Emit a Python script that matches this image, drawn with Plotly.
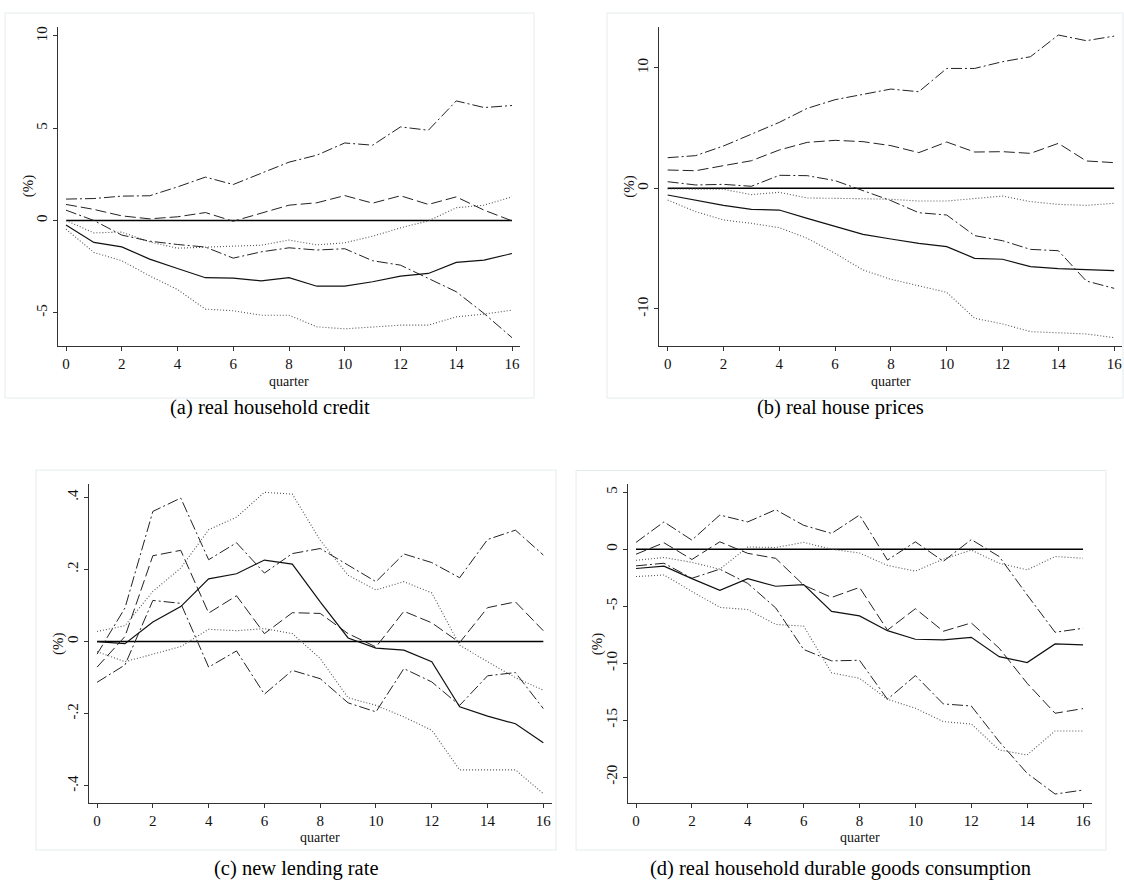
import plotly.graph_objects as go

quarters = list(range(17))

# (a) real household credit
a_solid = [-0.25, -1.19, -1.43, -2.09, -2.6, -3.1, -3.12, -3.27, -3.1, -3.56, -3.56, -3.32, -3.01, -2.87, -2.27, -2.15, -1.79]
a_dotted_hi = [0.0, -0.67, -0.63, -1.16, -1.5, -1.43, -1.39, -1.34, -1.06, -1.32, -1.21, -0.85, -0.4, -0.02, 0.69, 0.83, 1.28]
a_dotted_lo = [-0.47, -1.73, -2.18, -3.0, -3.74, -4.8, -4.89, -5.13, -5.13, -5.76, -5.87, -5.79, -5.67, -5.67, -5.22, -5.07, -4.86]
a_dashed = [0.87, 0.6, 0.25, 0.09, 0.2, 0.43, -0.04, 0.38, 0.83, 0.96, 1.35, 0.94, 1.34, 0.87, 1.28, 0.56, -0.02]
a_dashdot_hi = [1.16, 1.19, 1.32, 1.34, 1.82, 2.35, 1.95, 2.55, 3.16, 3.54, 4.2, 4.08, 5.07, 4.89, 6.48, 6.12, 6.23]
a_dashdot_lo = [0.56, 0.0, -0.79, -1.12, -1.3, -1.44, -2.04, -1.7, -1.48, -1.6, -1.53, -2.18, -2.42, -3.14, -3.86, -5.04, -6.35]

# (b) real house prices
b_solid = [-0.55, -0.97, -1.41, -1.74, -1.8, -2.49, -3.12, -3.81, -4.2, -4.56, -4.83, -5.8, -5.88, -6.49, -6.66, -6.77, -6.82]
b_dotted_hi = [-0.05, -0.05, -0.08, -0.52, -0.33, -0.8, -0.86, -0.86, -0.91, -1.05, -1.05, -0.83, -0.64, -1.1, -1.33, -1.41, -1.24]
b_dotted_lo = [-0.97, -1.93, -2.62, -2.9, -3.26, -4.14, -5.39, -6.77, -7.54, -8.07, -8.62, -10.77, -11.24, -11.88, -11.96, -12.07, -12.38]
b_dashed = [1.52, 1.46, 1.88, 2.29, 3.18, 3.81, 3.98, 3.87, 3.54, 2.96, 3.84, 3.01, 3.04, 2.9, 3.73, 2.27, 2.13]
b_dashdot_hi = [2.54, 2.71, 3.51, 4.5, 5.47, 6.63, 7.35, 7.79, 8.23, 8.01, 9.94, 9.94, 10.5, 10.91, 12.71, 12.24, 12.62]
b_dashdot_lo = [0.55, 0.28, 0.33, 0.17, 1.08, 1.05, 0.64, -0.2, -1.02, -2.02, -2.21, -3.92, -4.34, -5.06, -5.17, -7.68, -8.29]

# (c) new lending rate
c_solid = [0.0, -0.006, 0.054, 0.097, 0.174, 0.188, 0.226, 0.215, 0.11, 0.01, -0.018, -0.024, -0.056, -0.181, -0.207, -0.228, -0.281]
c_dotted_hi = [0.028, 0.044, 0.139, 0.204, 0.31, 0.345, 0.414, 0.409, 0.281, 0.184, 0.143, 0.166, 0.135, -0.01, -0.056, -0.1, -0.135]
c_dotted_lo = [-0.028, -0.056, -0.035, -0.014, 0.034, 0.03, 0.036, 0.022, -0.047, -0.156, -0.177, -0.209, -0.246, -0.356, -0.356, -0.356, -0.422]
c_dashed = [-0.071, 0.014, 0.238, 0.253, 0.079, 0.127, 0.022, 0.08, 0.078, 0.022, -0.015, 0.084, 0.052, -0.003, 0.094, 0.11, 0.03]
c_dashdot_hi = [-0.035, 0.093, 0.361, 0.398, 0.227, 0.274, 0.19, 0.244, 0.258, 0.212, 0.166, 0.243, 0.219, 0.177, 0.283, 0.309, 0.24]
c_dashdot_lo = [-0.113, -0.065, 0.114, 0.106, -0.071, -0.026, -0.146, -0.08, -0.103, -0.17, -0.195, -0.075, -0.112, -0.177, -0.095, -0.086, -0.186]

# (d) real household durable goods consumption
d_solid = [-1.69, -1.49, -2.58, -3.6, -2.58, -3.25, -3.1, -5.45, -5.85, -7.15, -7.9, -7.96, -7.73, -9.43, -9.95, -8.31, -8.4]
d_dotted_hi = [-0.97, -0.73, -1.15, -1.75, 0.2, 0.15, 0.6, 0.0, -0.33, -1.42, -1.92, -0.87, -0.08, -1.23, -1.81, -0.64, -0.79]
d_dotted_lo = [-2.4, -2.26, -3.7, -5.1, -5.3, -6.6, -6.75, -10.85, -11.33, -13.17, -13.96, -15.13, -15.34, -17.62, -18.06, -15.95, -15.95]
d_dashed = [-0.44, 0.57, -0.9, 0.65, -0.36, -0.8, -3.15, -4.23, -3.35, -7.1, -5.22, -7.2, -6.47, -8.69, -11.77, -14.4, -13.99]
d_dashdot_hi = [0.6, 2.4, 0.8, 3.0, 2.4, 3.47, 2.1, 1.39, 3.0, -0.95, 0.65, -1.06, 0.85, -0.64, -4.01, -7.29, -6.94]
d_dashdot_lo = [-1.46, -1.23, -2.55, -1.75, -3.0, -5.15, -8.8, -9.8, -9.75, -13.17, -11.09, -13.58, -13.76, -16.89, -19.67, -21.49, -21.14]

zero_line = [0.0] * 17

x_ticks = list(range(0, 17, 2))
a_yticks = [-5, 0, 5, 10]
b_yticks = [-10, 0, 10]
c_yticks = [-0.4, -0.2, 0, 0.2, 0.4]
c_yticklabels = ["-.4", "-.2", "0", ".2", ".4"]
d_yticks = [-20, -15, -10, -5, 0, 5]

captions = ["(a) real household credit", "(b) real house prices",
            "(c) new lending rate", "(d) real household durable goods consumption"]

W, H = 1124, 894
SERIF = "Liberation Serif, DejaVu Serif, serif"
TICK_FONT = dict(family=SERIF, size=15, color="#111")
CAP_FONT = dict(family=SERIF, size=20.5, color="#000")

DOT = "1px,2px"
DASH = "11px,4px"
DASHDOT = "11px,3px,2px,3px"

panels = [
    dict(series=(a_solid, a_dotted_hi, a_dotted_lo, a_dashed, a_dashdot_hi, a_dashdot_lo),
         yr=[-6.8, 10.5], yt=a_yticks, ytl=[str(v) for v in a_yticks],
         box=(58, 520, 26.7, 346), frame=(5, 534, 13, 398), cap=(270, 407), xr=[-0.287, 16.287]),
    dict(series=(b_solid, b_dotted_hi, b_dotted_lo, b_dashed, b_dashdot_hi, b_dashdot_lo),
         yr=[-13.07, 13.4], yt=b_yticks, ytl=[str(v) for v in b_yticks],
         box=(659.3, 1121.7, 26.7, 346), frame=(607, 1123, 13, 398), cap=(840, 407), xr=[-0.3, 16.27]),
    dict(series=(c_solid, c_dotted_hi, c_dotted_lo, c_dashed, c_dashdot_hi, c_dashdot_lo),
         yr=[-0.447, 0.437], yt=c_yticks, ytl=c_yticklabels,
         box=(88.7, 551.7, 484, 802.7), frame=(36, 556, 470, 850), cap=(296, 868), xr=[-0.3, 16.3]),
    dict(series=(d_solid, d_dotted_hi, d_dotted_lo, d_dashed, d_dashdot_hi, d_dashdot_lo),
         yr=[-22.25, 5.7], yt=d_yticks, ytl=[str(v) for v in d_yticks],
         box=(627.7, 1091.7, 484.3, 802.7), frame=(576, 1106, 470.5, 850), cap=(840, 868), xr=[-0.297, 16.31]),
]

fig = go.Figure()
shapes = []
annotations = []

for i, p in enumerate(panels, start=1):
    xa = "x" if i == 1 else f"x{i}"
    ya = "y" if i == 1 else f"y{i}"
    solid, dot_hi, dot_lo, dashed, dd_hi, dd_lo = p["series"]
    styles = [
        (zero_line, "solid", 1.5, "#000"),
        (dot_hi, DOT, 1.1, "#555"),
        (dot_lo, DOT, 1.1, "#555"),
        (dd_hi, DASHDOT, 1.0, "#222"),
        (dd_lo, DASHDOT, 1.0, "#222"),
        (dashed, DASH, 1.0, "#222"),
        (solid, "solid", 1.2, "#111"),
    ]
    for vals, dash, w, col in styles:
        fig.add_trace(go.Scatter(x=quarters, y=vals, mode="lines", xaxis=xa, yaxis=ya,
                                 line=dict(color=col, width=w, dash=dash),
                                 showlegend=False, hoverinfo="skip"))

    l, r, t, b = p["box"]
    xkey = "xaxis" if i == 1 else f"xaxis{i}"
    ykey = "yaxis" if i == 1 else f"yaxis{i}"
    fig.layout[xkey] = dict(domain=[l / W, r / W], anchor=ya, range=p["xr"],
                            tickvals=x_ticks, ticktext=[str(v) for v in x_ticks],
                            showline=True, linecolor="#333", linewidth=1,
                            ticks="outside", ticklen=4, tickcolor="#333", tickwidth=1,
                            showgrid=False, zeroline=False, tickfont=TICK_FONT)
    fig.layout[ykey] = dict(domain=[1 - b / H, 1 - t / H], anchor=xa, range=p["yr"],
                            tickvals=p["yt"], ticktext=p["ytl"], tickangle=-90,
                            showline=True, linecolor="#333", linewidth=1,
                            ticks="outside", ticklen=4, tickcolor="#333", tickwidth=1,
                            showgrid=False, zeroline=False, tickfont=TICK_FONT)

    # axis titles
    annotations.append(dict(text="quarter", x=(l + r) / 2 / W, y=1 - (b + 35) / H,
                            xref="paper", yref="paper", showarrow=False,
                            font=dict(family=SERIF, size=14, color="#111"),
                            xanchor="center", yanchor="middle"))
    annotations.append(dict(text="(%)", x=(l - 30) / W, y=1 - ((t + b) / 2) / H,
                            xref="paper", yref="paper", showarrow=False, textangle=-90,
                            font=dict(family=SERIF, size=15, color="#111"),
                            xanchor="center", yanchor="middle"))
    # caption
    cx, cy = p["cap"]
    annotations.append(dict(text=captions[i - 1], x=cx / W, y=1 - cy / H,
                            xref="paper", yref="paper", showarrow=False,
                            font=CAP_FONT, xanchor="center", yanchor="middle"))
    # light frame around each graph
    fl, fr, ft, fb = p["frame"]
    shapes.append(dict(type="rect", xref="paper", yref="paper",
                       x0=fl / W, x1=fr / W, y0=1 - fb / H, y1=1 - ft / H,
                       line=dict(color="#e4ecee", width=1), fillcolor="rgba(0,0,0,0)",
                       layer="below"))

fig.update_layout(width=W, height=H, margin=dict(l=0, r=0, t=0, b=0),
                  paper_bgcolor="white", plot_bgcolor="white",
                  shapes=shapes, annotations=annotations, showlegend=False)

fig.write_html("out.html")
